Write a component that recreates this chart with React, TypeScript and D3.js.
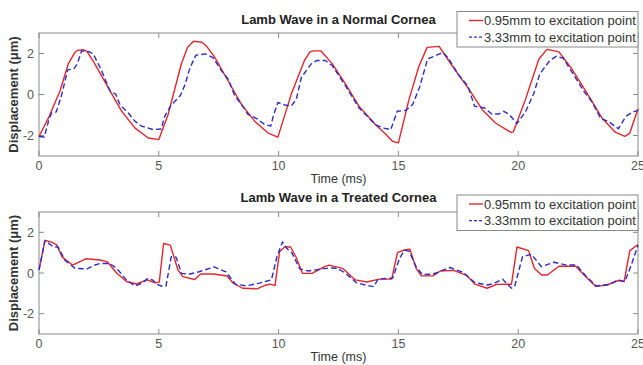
import React from "react";
import * as d3 from "d3";

const xTicks = [0, 5, 10, 15, 20, 25];
const yTicks = [-2, 0, 2];
const seriesNames = ["0.95mm to excitation point", "3.33mm to excitation point"];
const titles = ["Lamb Wave in a Normal Cornea", "Lamb Wave in a Treated Cornea"];

const normalNear: [number, number][] = [
  [0, -2.05], [0.4, -1.13], [0.88, 0.18], [1.22, 1.49], [1.5, 2.05], [1.6, 2.15], [1.85, 2.18], [2.0, 2.1],
  [2.33, 1.49], [2.89, 0.34], [3.44, -0.8], [4.0, -1.63], [4.56, -2.12], [5.0, -2.2], [5.39, -0.97],
  [5.94, 1.49], [6.2, 2.3], [6.45, 2.6], [6.8, 2.55], [7.0, 2.35], [7.33, 1.82], [7.89, 0.67], [8.45, -0.48],
  [9.0, -1.3], [9.55, -1.87], [9.97, -2.08], [10.53, 0.02], [11.08, 1.66], [11.3, 2.07], [11.45, 2.13],
  [11.76, 2.13], [12.25, 1.48], [12.8, 0.49], [13.36, -0.58], [14.05, -1.48], [14.45, -1.92], [14.75, -2.28],
  [15.0, -2.36], [15.44, -0.25], [15.86, 1.39], [16.2, 2.3], [16.7, 2.35], [17.25, 1.39], [17.95, 0.25],
  [18.5, -0.74], [19.05, -1.39], [19.7, -1.85], [19.8, -1.82], [20.3, -0.25], [20.86, 1.72], [21.2, 2.2],
  [21.7, 2.08], [22.25, 1.23], [22.95, -0.08], [23.5, -1.15], [24.05, -1.84], [24.45, -2.04], [24.65, -1.9],
  [25, -0.7],
];

const normalFar: [number, number][] = [
  [0, -2.05], [0.22, -2.07], [0.42, -1.2], [0.53, -0.89], [0.72, -0.85], [0.95, 0.0], [1.2, 1.2], [1.45, 1.25],
  [1.6, 1.5], [1.78, 2.13], [2.05, 2.1], [2.26, 1.99], [2.61, 1.17], [2.96, 0.18], [3.2, 0.02], [3.38, -0.5],
  [3.72, -0.89], [4.0, -1.3], [4.28, -1.54], [4.76, -1.71], [5.1, -1.68], [5.25, -1.05], [5.5, -0.55],
  [5.9, -0.05], [6.1, 0.5], [6.3, 1.3], [6.55, 1.92], [6.95, 1.98], [7.26, 1.8], [7.61, 1.17], [7.89, 0.76],
  [8.17, -0.06], [8.45, -0.48], [8.72, -0.97], [9.14, -1.21], [9.4, -1.45], [9.67, -1.54], [9.8, -0.97],
  [9.97, -0.39], [10.25, -0.51], [10.53, -0.56], [10.74, -0.23], [10.95, 0.84], [11.36, 1.49], [11.6, 1.66],
  [11.95, 1.66], [12.25, 1.39], [12.8, 0.41], [13.36, -0.66], [14.05, -1.48], [14.4, -1.64], [14.68, -1.72],
  [14.95, -0.82], [15.32, -0.77], [15.6, -0.48], [15.88, 0.34], [16.22, 1.74], [16.55, 1.89], [16.85, 2.05],
  [17.07, 1.8], [17.49, 0.99], [17.9, 0.41], [18.18, -0.57], [18.6, -0.66], [18.9, -0.95], [19.2, -0.95],
  [19.4, -0.82], [19.64, -0.99], [19.95, -1.42], [20.3, -0.85], [20.65, 0.05], [20.9, 1.0], [21.32, 1.66],
  [21.6, 1.87], [21.88, 1.77], [22.4, 0.8], [22.74, 0.16], [23.09, -0.38], [23.45, -1.18], [23.75, -1.3],
  [24.18, -1.67], [24.5, -1.06], [24.72, -0.89], [25, -0.77],
];

const treatedNear: [number, number][] = [
  [0, 0.15], [0.25, 1.6], [0.5, 1.53], [0.74, 1.38], [0.97, 0.78], [1.4, 0.39], [1.95, 0.7], [2.55, 0.64],
  [2.85, 0.55], [3.24, 0.0], [3.65, -0.42], [4.07, -0.54], [4.5, -0.34], [4.85, -0.48], [5.02, -0.45],
  [5.2, 1.45], [5.48, 1.37], [5.8, 0.15], [6.0, -0.18], [6.5, -0.32], [6.75, -0.05], [7.3, -0.05],
  [7.85, -0.15], [8.1, -0.5], [8.5, -0.75], [9.1, -0.78], [9.45, -0.6], [9.65, -0.55], [9.85, -0.62],
  [10.04, 1.04], [10.25, 1.28], [10.5, 1.28], [10.72, 0.8], [11.0, -0.02], [11.4, -0.02], [11.9, 0.3],
  [12.1, 0.39], [12.67, 0.23], [13.2, -0.34], [13.68, -0.44], [14.2, -0.3], [14.72, -0.3], [14.96, 1.0],
  [15.25, 1.13], [15.48, 1.17], [15.74, 0.23], [15.96, -0.14], [16.45, -0.14], [16.75, 0.1], [17.3, 0.13],
  [17.85, -0.12], [18.2, -0.55], [18.7, -0.75], [19.1, -0.56], [19.72, -0.55], [19.95, 1.28], [20.43, 1.1],
  [20.68, 0.22], [20.98, -0.1], [21.22, -0.1], [21.7, 0.33], [22.4, 0.33], [22.82, -0.18], [23.24, -0.66],
  [23.7, -0.59], [24.18, -0.37], [24.42, -0.42], [24.66, 1.1], [25, 1.4],
];

const treatedFar: [number, number][] = [
  [0, 0.15], [0.25, 1.6], [0.6, 1.28], [0.8, 1.28], [1.08, 0.63], [1.5, 0.23], [2.0, 0.2], [2.3, 0.38],
  [2.55, 0.47], [2.95, 0.47], [3.24, 0.23], [3.65, -0.34], [4.0, -0.64], [4.3, -0.5], [4.55, -0.26],
  [4.75, -0.35], [4.92, -0.55], [5.1, -0.64], [5.3, -0.64], [5.52, 0.8], [5.72, 0.78], [5.95, -0.02],
  [6.3, -0.05], [6.68, 0.06], [7.3, 0.3], [7.8, 0.06], [8.2, -0.55], [8.65, -0.63], [9.2, -0.5],
  [9.45, -0.42], [9.7, -0.34], [9.93, 0.8], [10.16, 1.53], [10.35, 1.2], [10.55, 1.0], [10.88, 0.2],
  [11.25, 0.1], [11.8, 0.2], [12.15, 0.25], [12.45, 0.23], [12.78, 0.0], [13.25, -0.48], [13.65, -0.6],
  [13.97, -0.67], [14.15, -0.3], [14.76, -0.25], [15.05, 0.72], [15.25, 1.13], [15.45, 1.06], [15.74, 0.31],
  [16.0, -0.08], [16.45, -0.05], [17.15, 0.27], [17.7, 0.03], [18.2, -0.48], [18.72, -0.59], [19.0, -0.51],
  [19.35, -0.3], [19.5, -0.5], [19.72, -0.75], [19.85, -0.67], [20.18, 0.8], [20.55, 0.92], [20.97, 0.31],
  [21.5, 0.53], [22.0, 0.39], [22.43, 0.39], [22.85, -0.18], [23.26, -0.64], [23.82, -0.56], [24.17, -0.34],
  [24.45, -0.42], [24.72, 0.39], [25, 1.37],
];

const W = 643;
const H = 365;
const RED = "#e2262c";
const BLUE = "#2b2bcc";
const AXIS = "#8a8a8a";
const FONT = "'Liberation Sans', Arial, sans-serif";

type PanelProps = {
  top: number;
  bottom: number;
  title: string;
  near: [number, number][];
  far: [number, number][];
  titleY: number;
  legendTop: number;
};

function Panel({ top, bottom, title, near, far, titleY, legendTop }: PanelProps) {
  const left = 39;
  const right = 638;
  const x = d3.scaleLinear().domain([0, 25]).range([left, right]);
  const y = d3.scaleLinear().domain([-3, 3]).range([bottom, top]);
  const line = d3
    .line<[number, number]>()
    .x((d) => x(d[0]))
    .y((d) => y(d[1]));
  const tl = 5;
  const legLeft = 457;
  const legBottom = legendTop + 35.5;
  return (
    <g>
      <rect x={left} y={top} width={right - left} height={bottom - top} fill="#fff" stroke={AXIS} strokeWidth={1} />
      {xTicks.map((t) => (
        <g key={"x" + t}>
          <line x1={x(t)} x2={x(t)} y1={bottom} y2={bottom - tl} stroke={AXIS} />
          <line x1={x(t)} x2={x(t)} y1={top} y2={top + tl} stroke={AXIS} />
          <text x={x(t)} y={bottom + 14} textAnchor="middle" fontSize={12.5} fill="#555" fontFamily={FONT}>
            {t}
          </text>
        </g>
      ))}
      {yTicks.map((t) => (
        <g key={"y" + t}>
          <line x1={left} x2={left + tl} y1={y(t)} y2={y(t)} stroke={AXIS} />
          <line x1={right} x2={right - tl} y1={y(t)} y2={y(t)} stroke={AXIS} />
          <text x={left - 5} y={y(t) + 4.5} textAnchor="end" fontSize={12.5} fill="#555" fontFamily={FONT}>
            {t}
          </text>
        </g>
      ))}
      <path d={line(near) || ""} fill="none" stroke={RED} strokeWidth={1.4} strokeLinejoin="round" />
      <path d={line(far) || ""} fill="none" stroke={BLUE} strokeWidth={1.4} strokeDasharray="5.5,3" strokeLinejoin="round" />
      <text x={(left + right) / 2} y={titleY} textAnchor="middle" fontSize={13} fontWeight="bold" fill="#222" fontFamily={FONT}>
        {title}
      </text>
      <text x={(left + right) / 2} y={bottom + 27} textAnchor="middle" fontSize={12.5} fill="#333" fontFamily={FONT}>
        Time (ms)
      </text>
      <text
        transform={`translate(${left - 21},${(top + bottom) / 2}) rotate(-90)`}
        textAnchor="middle"
        fontSize={13}
        fontWeight="bold"
        fill="#333"
        fontFamily={FONT}
      >
        Displacement (μm)
      </text>
      <rect x={legLeft} y={legendTop} width={right - legLeft} height={legBottom - legendTop} fill="#fff" stroke={AXIS} />
      {seriesNames.map((name, i) => {
        const ry = legendTop + 9 + i * 16.6;
        return (
          <g key={name}>
            <line
              x1={legLeft + 12}
              x2={legLeft + 26}
              y1={ry}
              y2={ry}
              stroke={i === 0 ? RED : BLUE}
              strokeWidth={1.4}
              strokeDasharray={i === 0 ? undefined : "3,2"}
            />
            <text x={legLeft + 27} y={ry + 4.5} fontSize={13} fill="#333" fontFamily={FONT}>
              {name}
            </text>
          </g>
        );
      })}
    </g>
  );
}

export default function App() {
  return (
    <svg width={W} height={H} style={{ position: "absolute", left: 0, top: 0, background: "#fff" }}>
      <rect x={0} y={0} width={W} height={H} fill="#fff" />
      <Panel top={33} bottom={156} title={titles[0]} near={normalNear} far={normalFar} titleY={23.5} legendTop={11.5} />
      <Panel top={212} bottom={334} title={titles[1]} near={treatedNear} far={treatedFar} titleY={201.5} legendTop={195} />
    </svg>
  );
}
